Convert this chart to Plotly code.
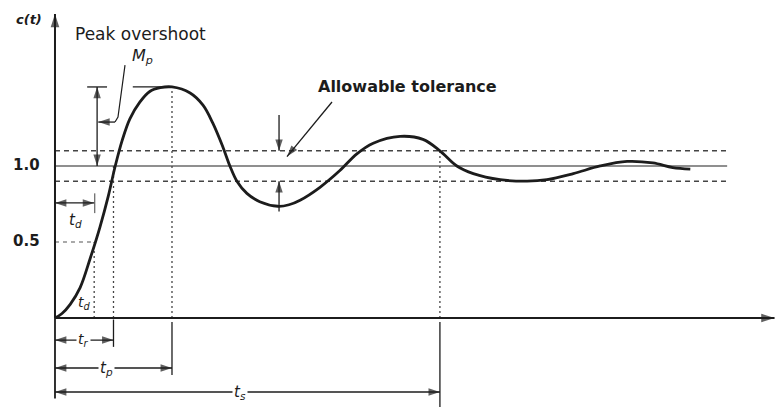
import plotly.graph_objects as go

# Step response c(t) of an underdamped second-order system
t_curve = [0.00, 0.12, 0.26, 0.43, 0.60, 0.77, 0.91, 1.03, 1.15, 1.28,
           1.45, 1.62, 1.80, 2.00, 2.31, 2.53, 2.70, 2.87, 2.99, 3.11,
           3.28, 3.50, 3.81, 4.00, 4.19, 4.53, 4.87, 5.16, 5.44, 5.90, 6.29,
           6.58, 6.87, 7.15, 7.61, 8.07, 8.41, 8.86, 9.32, 9.78, 10.22,
           10.56, 10.86]
c_curve = [0.00, 0.03, 0.09, 0.20, 0.39, 0.60, 0.80, 1.00, 1.17, 1.31,
           1.42, 1.49, 1.515, 1.52, 1.48, 1.40, 1.28, 1.125, 1.00, 0.90,
           0.82, 0.765, 0.735, 0.745, 0.775, 0.86, 0.97, 1.08, 1.15, 1.195, 1.175,
           1.10, 1.00, 0.95, 0.91, 0.90, 0.91, 0.95, 1.00, 1.03, 1.02,
           0.99, 0.98]

# Characteristic times and levels
t_delay = 0.67
t_rise = 1.00
t_peak = 2.00
t_settle = 6.58
c_peak = 1.52
c_final = 1.0
c_half = 0.5
tol_upper = 1.1
tol_lower = 0.9
t_end_lines = 11.49

tick_values = [0.5, 1.0]
tick_labels = ["0.5", "1.0"]

# Axis extents (plot area fills the page)
x_range = [-0.94, 12.325]
y_range = [-0.5855, 2.092]

INK = "#1c1c1c"
FONT = "DejaVu Sans, Liberation Sans, Arial, sans-serif"

fig = go.Figure()


def seg(xs, ys, color=INK, width=1.3, dash="solid"):
    fig.add_trace(go.Scatter(x=xs, y=ys, mode="lines",
                             line=dict(color=color, width=width, dash=dash),
                             hoverinfo="skip", showlegend=False))


def head(x_from, y_from, x_to, y_to, size=12):
    # arrowhead at (x_to, y_to), oriented along the segment
    fig.add_trace(go.Scatter(x=[x_from, x_to], y=[y_from, y_to], mode="markers",
                             marker=dict(symbol="arrow", angleref="previous",
                                         size=[0, size], color=INK,
                                         line=dict(width=0)),
                             hoverinfo="skip", showlegend=False))


def arrow(x0, y0, x1, y1, both=False, width=1.3, size=12):
    seg([x0, x1], [y0, y1], width=width)
    head(x0, y0, x1, y1, size)
    if both:
        head(x1, y1, x0, y0, size)


# Reference levels
seg([0, t_end_lines], [tol_upper, tol_upper], color="#444", width=1.4, dash="5px,4px")
seg([0, t_end_lines], [tol_lower, tol_lower], color="#444", width=1.4, dash="5px,4px")
seg([0, t_end_lines], [c_final, c_final], color="#6a6a6a", width=1.6)
seg([0, t_delay], [c_half, c_half], color="#555", width=1.2, dash="4px,4px")

# Dotted projections of the characteristic times
seg([t_delay, t_delay], [0, c_half], color="#444", width=1.3, dash="2px,3px")
seg([t_rise, t_rise], [0, c_final], color="#444", width=1.3, dash="2px,3px")
seg([t_peak, t_peak], [0, c_peak], color="#444", width=1.3, dash="2px,3px")
seg([t_settle, t_settle], [0, tol_upper], color="#444", width=1.3, dash="2px,3px")

# Extension lines below the time axis
seg([0, 0], [0, -0.53], width=1.8)
seg([t_rise, t_rise], [-0.01, -0.19], width=1.3)
seg([t_peak, t_peak], [-0.026, -0.375], width=1.3)
seg([t_settle, t_settle], [-0.026, -0.586], width=1.3)

# Peak level marks and overshoot leader
seg([0.55, 0.89], [c_peak, c_peak], width=1.3)
seg([1.33, t_peak], [c_peak, c_peak], width=1.3)
seg([1.197, 1.077, 1.026], [1.664, 1.322, 1.289], width=1.2)
seg([0.68, 0.68], [0.82, 0.69], color="#444", width=1.0)

# Response curve
fig.add_trace(go.Scatter(x=t_curve, y=c_curve, mode="lines",
                         line=dict(color=INK, width=2.8, shape="spline", smoothing=1.0),
                         hoverinfo="skip", showlegend=False))

# Axes with arrowheads
arrow(0, 0, 12.30, 0, width=2.0, size=14)
arrow(0, 0, 0, 2.00, width=2.0, size=14)

# Overshoot dimension and its leader arrow
arrow(0.72, c_final, 0.72, c_peak, both=True)
arrow(1.026, 1.289, 0.74, 1.289)

# Tolerance band arrows
arrow(3.83, 1.336, 3.83, tol_upper)
arrow(3.83, 0.70, 3.83, tol_lower)
arrow(4.735, 1.421, 3.966, 1.062)

# Delay-time dimension
arrow(0, 0.757, t_delay, 0.757, both=True)

# Time dimensions below the axis
arrow(0, -0.145, t_rise, -0.145, both=True)
arrow(0, -0.329, t_peak, -0.329, both=True)
arrow(0, -0.487, t_settle, -0.487, both=True, width=1.6)

annotations = []


def label(x, y, text, size=14, bg=None, xanchor="center", family=FONT):
    d = dict(x=x, y=y, xref="x", yref="y", text=text, showarrow=False,
             font=dict(family=family, size=size, color=INK),
             xanchor=xanchor, yanchor="middle")
    if bg:
        d["bgcolor"] = bg
    annotations.append(d)


for v, s in zip(tick_values, tick_labels):
    label(-0.49, v + 0.005, "<b>" + s + "</b>", size=15)

label(-0.44, 1.965, "<b><i>c(t)</i></b>", size=13)
label(0.30, 1.87, "Peak overshoot", size=17, xanchor="left")
label(1.49, 1.72, "<i>M<sub>p</sub></i>", size=16)
label(6.02, 1.52, "<b>Allowable tolerance</b>", size=16)
label(0.35, 0.64, "<i>t<sub>d</sub></i>", size=15)
label(0.50, 0.10, "<i>t<sub>d</sub></i>", size=14)
label(0.48, -0.145, "<i>t<sub>r</sub></i>", size=14, bg="white")
label(0.88, -0.335, "<i>t<sub>p</sub></i>", size=15, bg="white")
label(3.17, -0.49, "<i>t<sub>s</sub></i>", size=15, bg="white")

fig.update_layout(
    width=776, height=407, autosize=False,
    margin=dict(l=0, r=0, t=0, b=0),
    paper_bgcolor="white", plot_bgcolor="white",
    showlegend=False,
    xaxis=dict(range=x_range, visible=False, fixedrange=True),
    yaxis=dict(range=y_range, visible=False, fixedrange=True),
    annotations=annotations,
)

fig.write_html("out.html")
